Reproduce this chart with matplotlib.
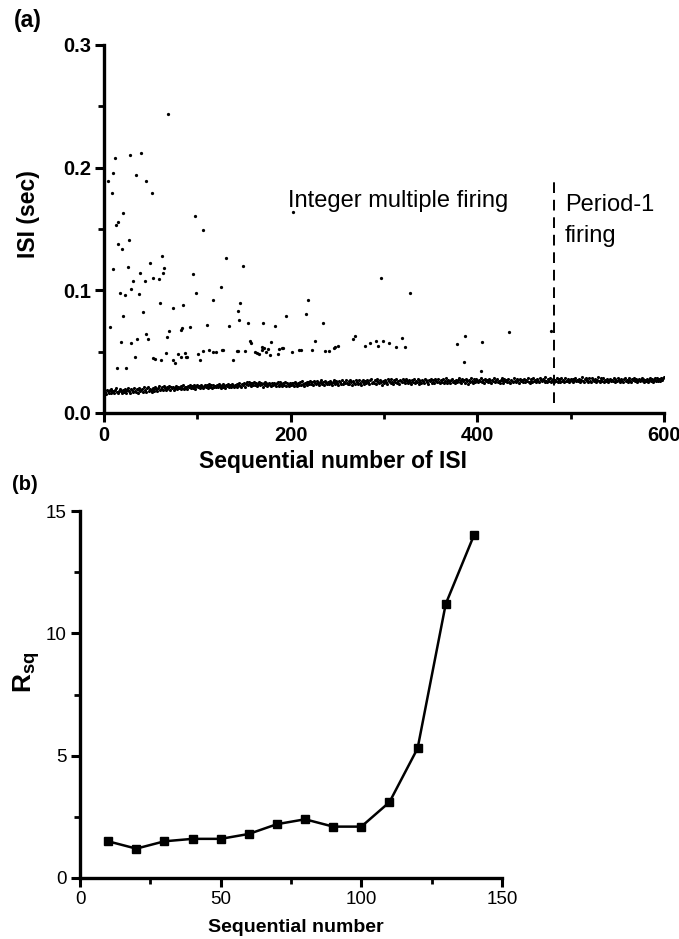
import numpy as np
import matplotlib
matplotlib.use("Agg")
import matplotlib.pyplot as plt
from matplotlib.ticker import MultipleLocator

plt.rcParams['font.family'] = ['Liberation Sans', 'DejaVu Sans']
plt.rcParams['mathtext.fontset'] = 'custom'
plt.rcParams['mathtext.rm'] = 'Liberation Sans'
plt.rcParams['mathtext.bf'] = 'Liberation Sans:bold'

# ---- panel (a): ISI sequence, baseline values in units of 0.1 ms ----
isi_base = [
    172, 158, 190, 178, 160, 185, 199, 166, 182, 176, 162, 188, 203, 174, 159, 181, 196, 179, 167, 186,
    175, 199, 183, 163, 188, 204, 177, 160, 192, 185, 170, 201, 181, 172, 196, 166, 187, 206, 179, 184,
    193, 175, 208, 186, 170, 202, 213, 182, 197, 188, 173, 206, 192, 179, 211, 196, 183, 203, 217, 187,
    198, 210, 188, 218, 201, 184, 214, 196, 206, 222, 191, 210, 200, 216, 186, 207, 224, 195, 212, 203,
    214, 197, 221, 206, 226, 199, 216, 209, 193, 223, 211, 229, 202, 217, 206, 225, 213, 198, 220, 227,
    208, 224, 205, 229, 215, 200, 222, 232, 211, 227, 203, 220, 234, 213, 225, 206, 230, 216, 223, 209,
    228, 211, 233, 218, 204, 226, 236, 213, 223, 207, 229, 219, 238, 210, 226, 216, 233, 222, 212, 231,
    219, 237, 214, 229, 243, 221, 211, 235, 225, 246, 216, 240, 250, 228, 252, 235, 246, 224, 242, 232,
    250, 228, 243, 221, 239, 254, 225, 247, 233, 216, 241, 251, 227, 245, 220, 238, 248, 230, 223, 243,
    226, 246, 234, 219, 242, 252, 228, 222, 249, 236, 217, 243, 231, 251, 224, 247, 235, 220, 245, 227,
    248, 229, 241, 223, 254, 235, 218, 246, 232, 251, 225, 258, 239, 220, 248, 236, 256, 228, 249, 233,
    262, 238, 252, 228, 258, 244, 234, 264, 246, 225, 255, 241, 268, 235, 252, 230, 261, 244, 239, 256,
    235, 260, 246, 228, 254, 266, 241, 234, 259, 245, 227, 263, 249, 238, 270, 233, 256, 243, 265, 247,
    240, 261, 237, 267, 250, 230, 262, 247, 239, 271, 253, 235, 265, 245, 229, 258, 273, 249, 237, 263,
    244, 268, 251, 233, 265, 275, 241, 255, 247, 272, 235, 261, 278, 250, 242, 267, 253, 232, 264, 246,
    269, 254, 238, 275, 260, 249, 244, 279, 256, 240, 268, 253, 274, 247, 262, 236, 271, 257, 249, 277,
    253, 267, 242, 278, 259, 246, 272, 251, 238, 268, 256, 276, 243, 263, 252, 281, 240, 266, 255, 248,
    273, 257, 244, 280, 265, 252, 239, 271, 258, 277, 247, 266, 254, 243, 275, 260, 249, 279, 256, 241,
    268, 252, 276, 246, 263, 282, 257, 248, 272, 258, 242, 269, 278, 254, 261, 247, 273, 251, 266, 284,
    255, 268, 245, 277, 258, 271, 248, 280, 257, 239, 270, 254, 283, 260, 246, 276, 264, 252, 279, 258,
    249, 273, 261, 289, 253, 269, 243, 280, 257, 272, 250, 265, 277, 256, 246, 271, 259, 282, 252, 266,
    276, 254, 262, 243, 271, 283, 258, 247, 274, 259, 268, 251, 281, 256, 244, 273, 263, 255, 285, 261,
    250, 276, 259, 270, 246, 281, 257, 267, 253, 278, 249, 272, 261, 286, 255, 247, 275, 264, 256, 283,
    259, 270, 250, 279, 263, 254, 287, 266, 257, 281, 271, 251, 293, 262, 255, 277, 260, 285, 252, 268,
    280, 256, 273, 261, 287, 253, 266, 278, 250, 284, 260, 270, 255, 282, 263, 258, 276, 249, 268, 279,
    261, 277, 252, 269, 284, 258, 272, 260, 281, 255, 266, 291, 262, 253, 276, 286, 259, 270, 256, 282,
    264, 255, 289, 271, 259, 279, 251, 268, 294, 262, 256, 282, 271, 259, 285, 255, 273, 261, 278, 253,
    268, 281, 257, 273, 262, 286, 254, 277, 264, 259, 283, 270, 256, 279, 261, 252, 276, 285, 259, 268,
    256, 273, 282, 262, 253, 279, 268, 287, 259, 275, 254, 266, 281, 258, 271, 284, 261, 278, 252, 272,
    263, 281, 256, 270, 285, 260, 276, 253, 268, 283, 259, 272, 287, 257, 279, 263, 282, 270, 288, 293,
]

# integer-multiple ISIs (sequence index, seconds)
long_x = [69, 12, 28, 40, 10, 34, 4, 45, 9, 51, 20, 15, 13, 97, 106, 15, 27, 19, 62,
          10, 26, 49, 64, 63, 39, 31, 44, 53, 59, 95, 29, 17, 22, 37, 99, 60, 74, 85, 42,
          20, 6, 18, 29, 35, 45, 47, 67, 70, 82, 84, 92, 110, 33, 14, 24, 53, 55, 61, 66,
          74, 76, 79, 83, 88, 87, 89, 101, 103, 106, 112,
          131, 149, 125, 117, 146, 144, 145, 134, 154, 170, 183, 195, 219, 216, 235, 156,
          157, 169, 179, 226, 117, 120, 126, 128, 138, 142, 144, 151, 162, 164, 166, 169,
          171, 174, 176, 178, 186, 188, 191, 192, 201, 209, 211, 223, 237,
          297, 328, 267, 269, 241, 246, 248, 251, 280, 285, 291, 294, 299, 305, 313, 319, 322,
          378, 387, 405, 434, 479, 386, 404, 203]
long_y = [0.244, 0.208, 0.210, 0.212, 0.196, 0.194, 0.189, 0.189, 0.179, 0.179, 0.163, 0.156,
          0.153, 0.161, 0.149, 0.138, 0.141, 0.134, 0.128,
          0.117, 0.119, 0.122, 0.118, 0.114, 0.114, 0.108, 0.108, 0.110, 0.109, 0.113, 0.101,
          0.098, 0.0965, 0.097, 0.098, 0.090, 0.086, 0.088, 0.082,
          0.079, 0.070, 0.058, 0.057, 0.060, 0.064, 0.060, 0.062, 0.067, 0.068, 0.069, 0.0705,
          0.072, 0.0455, 0.037, 0.037, 0.0447, 0.044, 0.0436, 0.049,
          0.043, 0.041, 0.048, 0.0455, 0.046, 0.049, 0.0458, 0.048, 0.043, 0.0507, 0.0512,
          0.126, 0.120, 0.103, 0.092, 0.0897, 0.083, 0.076, 0.071, 0.073, 0.073, 0.071, 0.079,
          0.092, 0.081, 0.073, 0.0585,
          0.057, 0.054, 0.058, 0.059, 0.050, 0.050, 0.051, 0.051, 0.043, 0.0505, 0.0505, 0.0507,
          0.050, 0.049, 0.048, 0.051,
          0.053, 0.0496, 0.0518, 0.047, 0.048, 0.052, 0.0526, 0.053, 0.0496, 0.051, 0.051, 0.051,
          0.0507,
          0.110, 0.098, 0.060, 0.0626, 0.0507, 0.053, 0.0536, 0.0547, 0.0545, 0.057, 0.059,
          0.0547, 0.059, 0.057, 0.054, 0.0615, 0.0534,
          0.056, 0.063, 0.058, 0.066, 0.067, 0.0415, 0.034, 0.164]

boundary_x = 482

# ---- panel (b) ----
seq_n = [10, 20, 30, 40, 50, 60, 70, 80, 90, 100, 110, 120, 130, 140]
r_sq = [1.5, 1.2, 1.5, 1.6, 1.6, 1.8, 2.2, 2.4, 2.1, 2.1, 3.1, 5.3, 11.2, 14.0]

fig = plt.figure(figsize=(6.79, 9.39), dpi=100)

def style(ax, bold, size):
    for s in ('top', 'right'):
        ax.spines[s].set_visible(False)
    for s in ('left', 'bottom'):
        ax.spines[s].set_linewidth(2.4)
    ax.tick_params(which='major', direction='out', length=6.5, width=2.2, labelsize=size, pad=3)
    ax.tick_params(which='minor', direction='out', length=4, width=2.0)
    for lab in ax.get_xticklabels() + ax.get_yticklabels():
        lab.set_fontweight('bold' if bold else 'normal')

ax1 = fig.add_axes([104/679, 1-413/939, 560/679, 368/939])
base_x = np.arange(1, len(isi_base) + 1)
ax1.scatter(base_x, np.array(isi_base) / 10000.0, s=5, c='black', linewidths=0)
ax1.scatter(long_x, long_y, s=5.5, c='black', linewidths=0)
ax1.plot([boundary_x, boundary_x], [0.008, 0.188], color='black', lw=1.4, dashes=(5.5, 3.5))
ax1.set_xlim(0, 600)
ax1.set_ylim(0, 0.3)
ax1.xaxis.set_major_locator(MultipleLocator(200))
ax1.xaxis.set_minor_locator(MultipleLocator(100))
ax1.yaxis.set_major_locator(MultipleLocator(0.1))
ax1.yaxis.set_minor_locator(MultipleLocator(0.05))
ax1.yaxis.set_major_formatter(plt.FormatStrFormatter('%.1f'))
style(ax1, True, 14.5)
ax1.text(197, 0.168, 'Integer multiple firing', fontsize=17, va='baseline')
ax1.text(494, 0.1645, 'Period-1', fontsize=17, va='baseline')
ax1.text(494, 0.139, 'firing', fontsize=17, va='baseline')

fig.text(333/679, 1-462/939, 'Sequential number of ISI', fontsize=16.5, fontweight='bold',
         ha='center', va='center')
fig.text(28/679, 1-214/939, 'ISI (sec)', fontsize=16.5, fontweight='bold', rotation=90,
         ha='center', va='center')
fig.text(14/679, 1-20/939, '(a)', fontsize=16.5, fontweight='bold', va='center')

ax2 = fig.add_axes([80/679, 1-878/939, 422/679, 367/939])
ax2.plot(seq_n, r_sq, color='black', lw=1.8, marker='s', markersize=5.5)
ax2.set_xlim(0, 150)
ax2.set_ylim(0, 15)
ax2.xaxis.set_major_locator(MultipleLocator(50))
ax2.xaxis.set_minor_locator(MultipleLocator(25))
ax2.yaxis.set_major_locator(MultipleLocator(5))
ax2.yaxis.set_minor_locator(MultipleLocator(2.5))
style(ax2, False, 13.5)
fig.text(296/679, 1-927/939, 'Sequential number', fontsize=14, fontweight='bold',
         ha='center', va='center')
fig.text(26/679, 1-672/939, r'$\mathbf{R}_{\mathbf{sq}}$', fontsize=19, rotation=90,
         ha='center', va='center')
fig.text(12/679, 1-485/939, '(b)', fontsize=14.5, fontweight='bold', va='center')

fig.savefig('out.png', dpi=100)
